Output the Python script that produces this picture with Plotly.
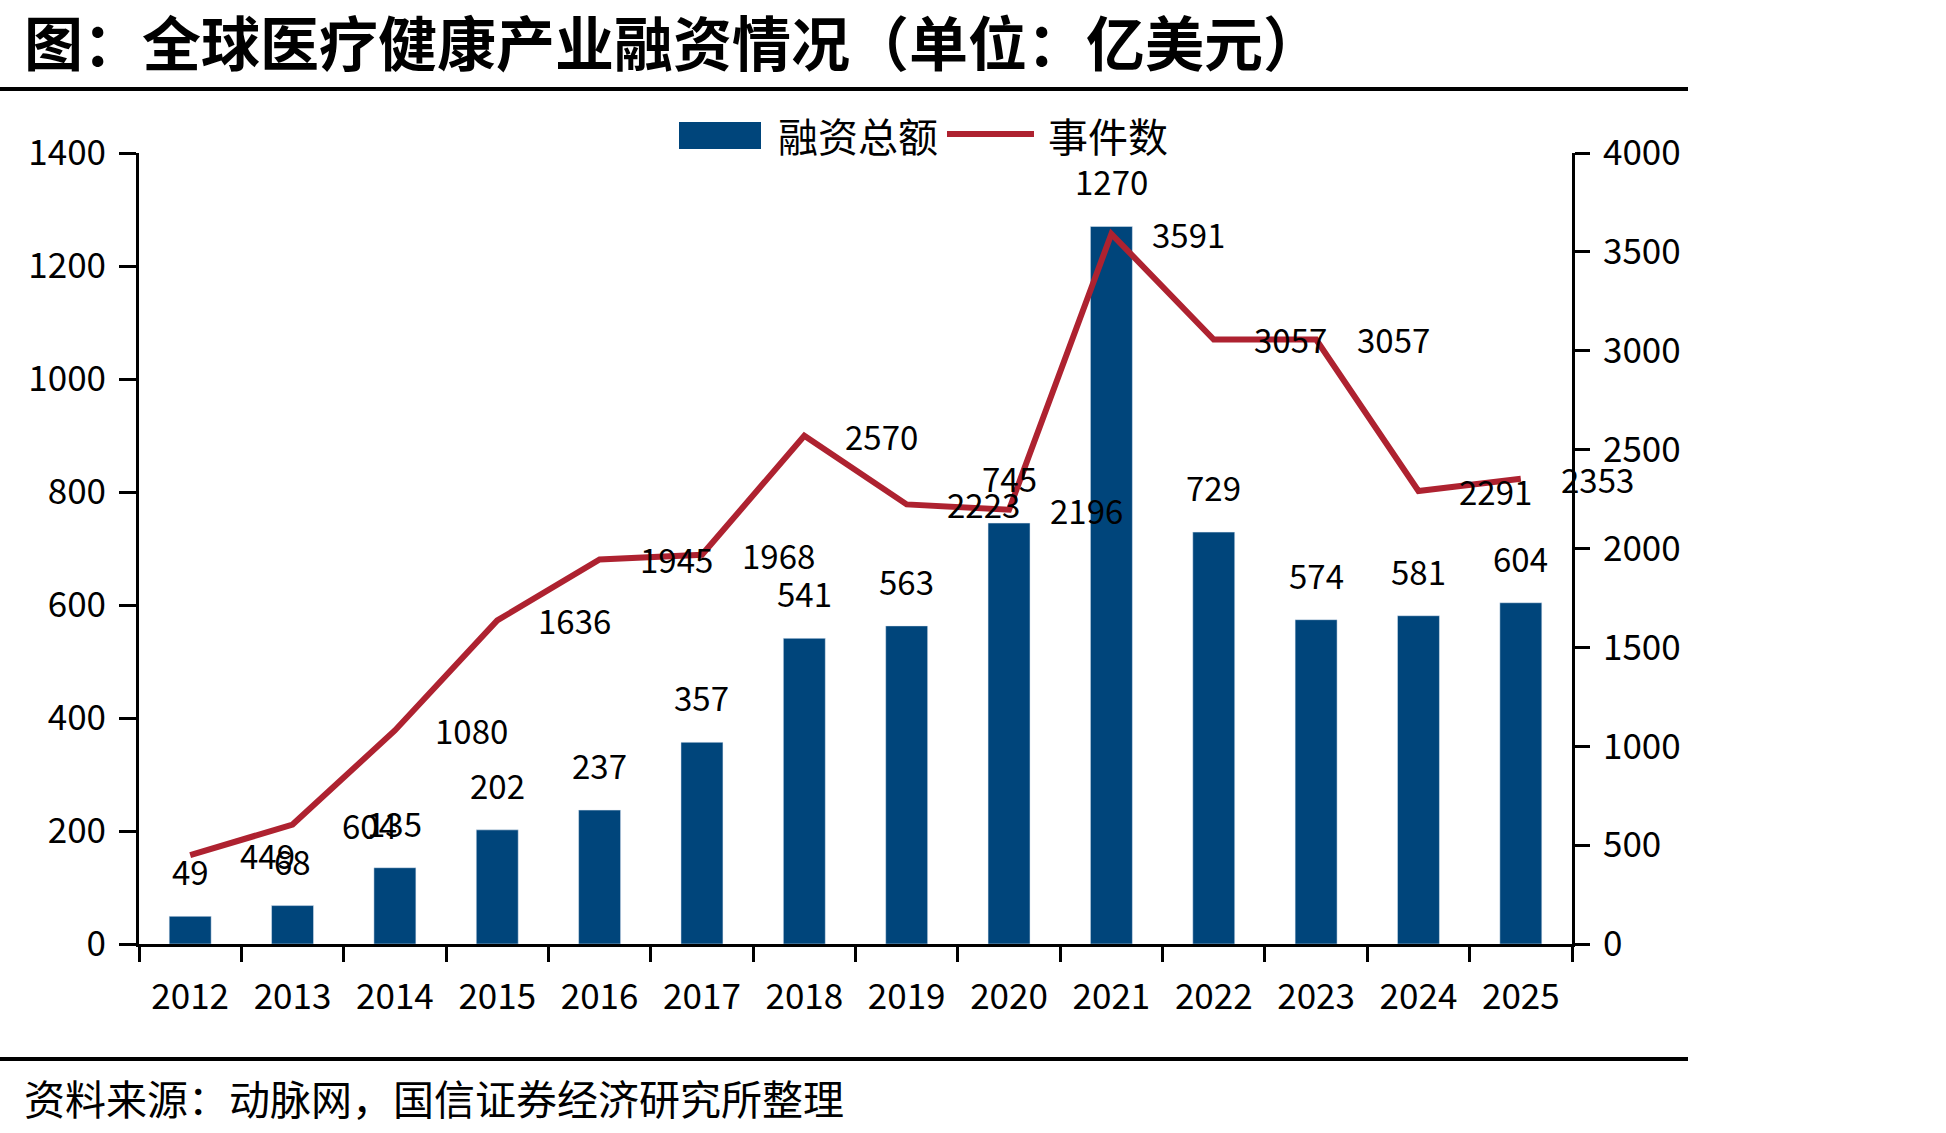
import plotly.graph_objects as go

years = ["2012", "2013", "2014", "2015", "2016", "2017", "2018",
         "2019", "2020", "2021", "2022", "2023", "2024", "2025"]
funding = [49, 68, 135, 202, 237, 357, 541, 563, 745, 1270, 729, 574, 581, 604]
events = [449, 604, 1080, 1636, 1945, 1968, 2570, 2223, 2196, 3591, 3057, 3057, 2291, 2353]
bar_name = "融资总额"
line_name = "事件数"
title_text = "图：全球医疗健康产业融资情况（单位：亿美元）"
source_text = "资料来源：动脉网，国信证券经济研究所整理"
left_ticks = [0, 200, 400, 600, 800, 1000, 1200, 1400]
right_ticks = [0, 500, 1000, 1500, 2000, 2500, 3000, 3500, 4000]

BLUE = "#00457B"
RED = "#AE2230"
FONT = "Noto Sans CJK SC, Liberation Sans, sans-serif"
W, H = 1946, 1133
L, R, T, B = 139, 374, 153, 189
PW, PH = W - L - R, H - T - B

fig = go.Figure()
fig.add_trace(go.Bar(x=years, y=funding, name=bar_name, marker_color=BLUE,
                     width=0.41, yaxis="y"))
fig.add_trace(go.Scatter(x=years, y=events, name=line_name, mode="lines",
                         line=dict(color=RED, width=6), yaxis="y2"))

ann = []
for i, v in enumerate(funding):
    ann.append(dict(x=i, y=v, xref="x", yref="y", text=str(v), showarrow=False,
                    yanchor="middle", xanchor="center", yshift=45,
                    font=dict(size=33, color="black", family=FONT)))
for i, v in enumerate(events):
    ann.append(dict(x=i, y=v, xref="x", yref="y2", text=str(v), showarrow=False,
                    yanchor="middle", xanchor="center", xshift=77,
                    font=dict(size=33, color="black", family=FONT)))


def px(xp):
    return (xp - L) / PW


def py(yp):
    return (H - B - yp) / PH


# title, source
ann.append(dict(x=px(22), y=py(40), xref="paper", yref="paper", text="<b>" + title_text + "</b>",
                showarrow=False, xanchor="left", yanchor="middle",
                font=dict(size=59, color="black", family=FONT)))
ann.append(dict(x=px(22), y=py(1097), xref="paper", yref="paper", text=source_text,
                showarrow=False, xanchor="left", yanchor="middle",
                font=dict(size=41, color="black", family=FONT)))
# legend
ann.append(dict(x=px(776), y=py(135), xref="paper", yref="paper", text=bar_name,
                showarrow=False, xanchor="left", yanchor="middle",
                font=dict(size=40, color="black", family=FONT)))
ann.append(dict(x=px(1046), y=py(135), xref="paper", yref="paper", text=line_name,
                showarrow=False, xanchor="left", yanchor="middle",
                font=dict(size=40, color="black", family=FONT)))

shapes = [
    dict(type="line", xref="paper", yref="paper", x0=px(0), x1=px(1688), y0=py(89), y1=py(89),
         line=dict(color="black", width=4)),
    dict(type="line", xref="paper", yref="paper", x0=px(0), x1=px(1688), y0=py(1059), y1=py(1059),
         line=dict(color="black", width=4)),
    dict(type="rect", xref="paper", yref="paper", x0=px(679), x1=px(761), y0=py(149), y1=py(122),
         fillcolor=BLUE, line=dict(width=0)),
    dict(type="line", xref="paper", yref="paper", x0=px(947), x1=px(1034), y0=py(134), y1=py(134),
         line=dict(color=RED, width=6)),
]

fig.update_layout(
    width=W, height=H,
    margin=dict(l=L, r=R, t=T, b=B, pad=0),
    paper_bgcolor="white", plot_bgcolor="white",
    showlegend=False,
    font=dict(family=FONT, size=35, color="black"),
    annotations=ann, shapes=shapes,
    xaxis=dict(type="category", range=[-0.5, 13.5], showline=True, linecolor="black",
               linewidth=3, ticks="outside", tickson="boundaries", ticklen=15,
               tickwidth=3, tickcolor="black", showgrid=False, zeroline=False,
               tickfont=dict(size=35, family=FONT), ticklabelstandoff=20),
    yaxis=dict(range=[0, 1400], tickvals=left_ticks, showline=True, linecolor="black",
               linewidth=3, ticks="outside", ticklen=17, tickwidth=3, tickcolor="black",
               showgrid=False, zeroline=False, tickfont=dict(size=35, family=FONT),
               ticklabelstandoff=6),
    yaxis2=dict(range=[0, 4000], tickvals=right_ticks, overlaying="y", side="right",
                showline=True, linecolor="black", linewidth=3, ticks="outside",
                ticklen=15, tickwidth=3, tickcolor="black", showgrid=False,
                zeroline=False, tickfont=dict(size=35, family=FONT), ticklabelstandoff=6),
)

fig.write_html("out.html")
